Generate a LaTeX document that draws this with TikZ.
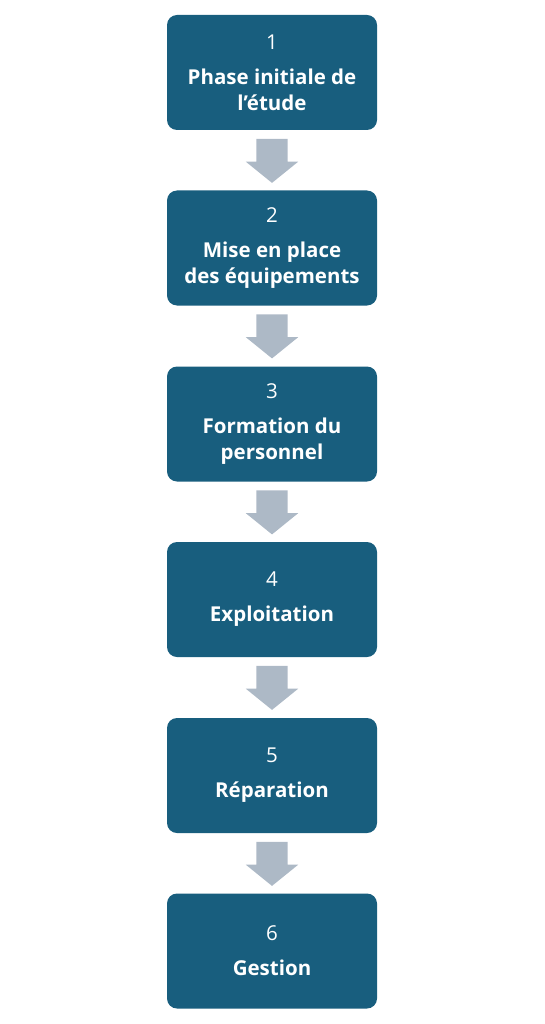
\documentclass[tikz,border=0pt]{standalone}
\usepackage{fontspec}
\setmainfont{Open Sans}
\usetikzlibrary{shapes.arrows,calc}
\definecolor{boxblue}{HTML}{185E7E}
\definecolor{arrowgray}{HTML}{ADB9C6}
\tikzset{
  stepbox/.style={draw=none, fill=boxblue, rounded corners=10pt, minimum width=210pt, minimum height=115pt,
    text=white, align=center, inner sep=0pt, font=\fontsize{20.5}{26}\selectfont},
  downarrow/.style={single arrow, fill=arrowgray, draw=none, rotate=-90, minimum height=44pt,
    single arrow head extend=10.5pt, single arrow head indent=0pt,
    single arrow tip angle=102, inner xsep=0pt, inner ysep=15.5pt, anchor=tail}
}
\newcommand{\stepnum}[1]{#1\\[9pt]}
\begin{document}
\begin{tikzpicture}[x=1pt,y=1pt]
\useasboundingbox (0,0) rectangle (544,-1024);
\node[stepbox] (b1) at (272,-72.5) {\stepnum{1}\textbf{Phase initiale de}\\\textbf{l’étude}};
\node[stepbox] (b2) at (272,-248) {\stepnum{2}\textbf{Mise en place}\\\textbf{des équipements}};
\node[stepbox] (b3) at (272,-424) {\stepnum{3}\textbf{Formation du}\\\textbf{personnel}};
\node[stepbox] (b4) at (272,-599.5) {\stepnum{4}\textbf{Exploitation}};
\node[stepbox] (b5) at (272,-775.5) {\stepnum{5}\textbf{Réparation}};
\node[stepbox] (b6) at (272,-951) {\stepnum{6}\textbf{Gestion}};
\foreach \a/\b in {b1/b2,b2/b3,b3/b4,b4/b5,b5/b6}{
  \node[downarrow] (arr-\a) at ($(\a.south)+(0,-8.5)$) {};
}
\end{tikzpicture}
\end{document}
